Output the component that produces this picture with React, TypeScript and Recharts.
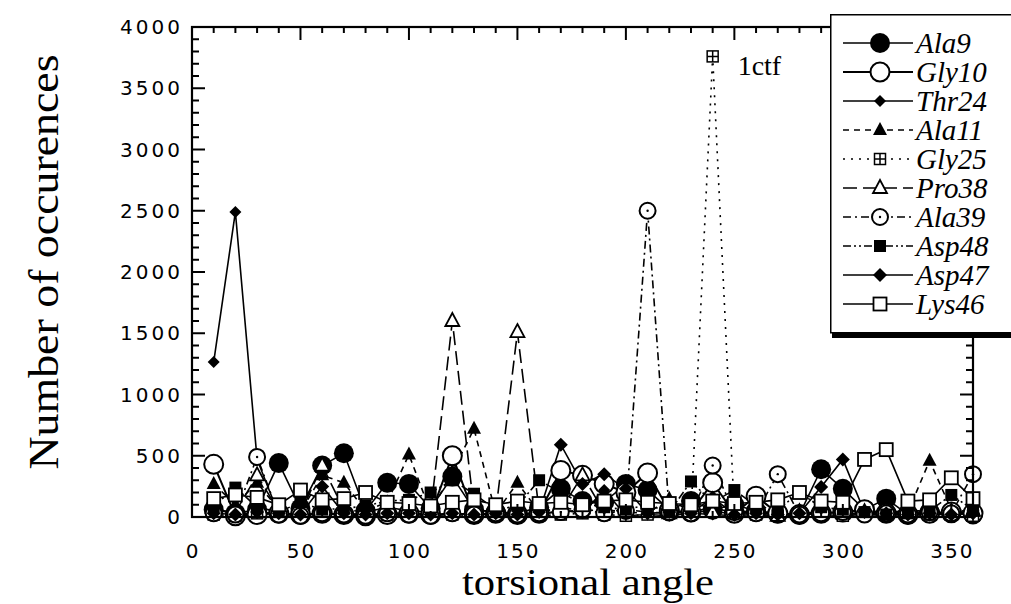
import React from "react";
import { LineChart, Line, XAxis, YAxis, ReferenceDot } from "recharts";

// torsional angle bins (degrees)
const ANGLES = [10, 20, 30, 40, 50, 60, 70, 80, 90, 100, 110, 120, 130, 140, 150, 160, 170, 180,
  190, 200, 210, 220, 230, 240, 250, 260, 270, 280, 290, 300, 310, 320, 330, 340, 350, 360];

// number of occurences per residue
const ALA9 = [60, 30, 60, 440, 70, 420, 520, 50, 280, 270, 70, 330, 60, 40, 30, 80, 230, 130,
  120, 270, 220, 60, 130, 60, 100, 50, 30, 20, 390, 230, 60, 150, 20, 40, 30, 20];
const GLY10 = [430, 10, 20, 30, 20, 30, 20, 10, 20, 30, 20, 500, 20, 30, 20, 30, 380, 340,
  270, 200, 360, 50, 40, 280, 30, 170, 30, 20, 30, 40, 60, 30, 20, 30, 40, 30];
const THR24 = [1265, 2490, 470, 20, 10, 30, 20, 10, 40, 20, 10, 20, 30, 10, 20, 10, 60, 30,
  220, 10, 20, 10, 30, 20, 10, 20, 10, 30, 20, 10, 20, 10, 20, 10, 30, 20];
const ALA11 = [270, 100, 280, 60, 40, 340, 280, 50, 120, 510, 40, 370, 720, 30, 280, 40, 80, 50,
  60, 40, 30, 150, 40, 80, 30, 40, 20, 30, 40, 30, 20, 30, 40, 460, 60, 40];
const GLY25 = [20, 10, 30, 20, 10, 20, 30, 10, 20, 10, 30, 20, 10, 20, 30, 10, 20, 30,
  20, 10, 20, 30, 20, 3760, 30, 20, 10, 20, 30, 10, 20, 30, 10, 20, 30, 10];
const PRO38 = [60, 40, 340, 50, 30, 420, 60, 40, 80, 50, 40, 1600, 60, 40, 1510, 50, 60, 340,
  40, 60, 40, 30, 50, 40, 30, 60, 10, 40, 30, 50, 40, 30, 60, 40, 30, 50];
const ALA39 = [30, 20, 490, 20, 10, 30, 20, 10, 30, 20, 10, 30, 20, 30, 20, 30, 40, 60,
  30, 50, 2500, 40, 30, 420, 40, 30, 350, 20, 30, 40, 20, 30, 20, 40, 30, 350];
const ASP48 = [90, 240, 80, 40, 120, 60, 70, 90, 130, 140, 200, 300, 190, 60, 90, 300, 200, 110,
  80, 60, 100, 40, 290, 120, 220, 90, 60, 200, 80, 60, 40, 20, 30, 50, 180, 60];
const ASP47 = [30, 20, 40, 30, 20, 250, 30, 20, 30, 30, 20, 30, 20, 30, 20, 40, 590, 270,
  350, 230, 30, 40, 30, 160, 20, 30, 20, 30, 245, 470, 40, 30, 20, 30, 20, 30];
const LYS46 = [150, 180, 160, 100, 220, 140, 150, 200, 120, 110, 90, 120, 140, 100, 130, 110, 120, 100,
  130, 140, 120, 110, 100, 130, 110, 120, 140, 200, 130, 120, 470, 550, 130, 140, 320, 150];

const X_MAJOR = [0, 50, 100, 150, 200, 250, 300, 350];
const Y_MAJOR = [0, 500, 1000, 1500, 2000, 2500, 3000, 3500, 4000];
const X_TICKS = Array.from({ length: 37 }, (_, i) => i * 10);
const Y_TICKS = Array.from({ length: 41 }, (_, i) => i * 100);
const X_MAX = 360;
const Y_MAX = 4000;

const SERIES = [
  { key: "Ala9", values: ALA9, kind: "bigDisc", dash: undefined, width: 1.6 },
  { key: "Gly10", values: GLY10, kind: "bigRing", dash: undefined, width: 2 },
  { key: "Thr24", values: THR24, kind: "smallDiamond", dash: undefined, width: 1.6 },
  { key: "Ala11", values: ALA11, kind: "triFilled", dash: "6 5", width: 1.6 },
  { key: "Gly25", values: GLY25, kind: "boxCross", dash: "2 6", width: 1.6 },
  { key: "Pro38", values: PRO38, kind: "triOpen", dash: "14 6", width: 1.6 },
  { key: "Ala39", values: ALA39, kind: "dotRing", dash: "8 4 2 4", width: 1.6 },
  { key: "Asp48", values: ASP48, kind: "squareFilled", dash: "8 3 2 3 2 3", width: 1.6 },
  { key: "Asp47", values: ASP47, kind: "diamond", dash: undefined, width: 1.6 },
  { key: "Lys46", values: LYS46, kind: "squareOpen", dash: undefined, width: 1.6 },
];

const data = ANGLES.map((angle, i) => {
  const row: any = { angle };
  SERIES.forEach((s) => (row[s.key] = s.values[i]));
  return row;
});

const peakIdx = GLY25.indexOf(Math.max(...GLY25));

// plot box (chart margins + axis sizes below)
const PLOT = { left: 192, right: 973, top: 27, bottom: 517 };
const TICK_FONT = "'DejaVu Sans', sans-serif";
const SERIF = "'Liberation Serif', 'Times New Roman', serif";

function Marker({ kind, cx, cy }: { kind: string; cx: number; cy: number }) {
  if (cx == null || cy == null) return null;
  switch (kind) {
    case "bigDisc":
      return <circle cx={cx} cy={cy} r={10} fill="#000" />;
    case "bigRing":
      return <circle cx={cx} cy={cy} r={9.5} fill="#fff" stroke="#000" strokeWidth={2} />;
    case "smallDiamond":
      return <path d={`M${cx},${cy - 6}L${cx + 6},${cy}L${cx},${cy + 6}L${cx - 6},${cy}Z`} fill="#000" />;
    case "triFilled":
      return <path d={`M${cx},${cy - 8}L${cx + 7},${cy + 5}L${cx - 7},${cy + 5}Z`} fill="#000" />;
    case "boxCross":
      return (
        <g>
          <rect x={cx - 5.5} y={cy - 5.5} width={11} height={11} fill="#fff" stroke="#000" strokeWidth={1.5} />
          <path d={`M${cx - 5.5},${cy}H${cx + 5.5}M${cx},${cy - 5.5}V${cy + 5.5}`} stroke="#000" strokeWidth={1.5} />
        </g>
      );
    case "triOpen":
      return <path d={`M${cx},${cy - 8}L${cx + 7},${cy + 5}L${cx - 7},${cy + 5}Z`} fill="#fff" stroke="#000" strokeWidth={1.8} />;
    case "dotRing":
      return (
        <g>
          <circle cx={cx} cy={cy} r={8} fill="#fff" stroke="#000" strokeWidth={2} />
          <circle cx={cx} cy={cy} r={1.2} fill="#000" />
        </g>
      );
    case "squareFilled":
      return <rect x={cx - 6} y={cy - 6} width={12} height={12} fill="#000" />;
    case "diamond":
      return <path d={`M${cx},${cy - 7}L${cx + 7},${cy}L${cx},${cy + 7}L${cx - 7},${cy}Z`} fill="#000" />;
    default:
      return <rect x={cx - 6.5} y={cy - 6.5} width={13} height={13} fill="#fff" stroke="#000" strokeWidth={1.8} />;
  }
}

const BottomTick = (p: any) => {
  const v = p.payload.value;
  if (!X_MAJOR.includes(v)) return <g />;
  return (
    <text x={p.x + 1} y={p.y + 41} textAnchor="middle" fontFamily={TICK_FONT} fontSize={20} letterSpacing={2} fill="#000">
      {v}
    </text>
  );
};

const LeftTick = (p: any) => {
  const v = p.payload.value;
  if (!Y_MAJOR.includes(v)) return <g />;
  return (
    <text x={p.x - 9} y={p.y + 7} textAnchor="end" fontFamily={TICK_FONT} fontSize={20} letterSpacing={3} fill="#000">
      {v}
    </text>
  );
};

const CtfLabel = (p: any) => (
  <text x={p.viewBox.x + 25} y={p.viewBox.y + 19} fontFamily={SERIF} fontSize={28} fill="#000">
    1ctf
  </text>
);

// closed frame with inward-pointing ticks on all four sides
const Frame = () => {
  const w = PLOT.right - PLOT.left;
  const h = PLOT.bottom - PLOT.top;
  const px = (v: number) => PLOT.left + (v / X_MAX) * w;
  const py = (v: number) => PLOT.bottom - (v / Y_MAX) * h;
  return (
    <svg width={1011} height={604} style={{ position: "absolute", left: 0, top: 0, pointerEvents: "none" }}>
      <rect x={PLOT.left} y={PLOT.top} width={w} height={h} fill="none" stroke="#000" strokeWidth={2.2} />
      {X_TICKS.map((v) => {
        const len = X_MAJOR.includes(v) ? 13 : 6;
        return (
          <g key={`x${v}`} stroke="#000" strokeWidth={2}>
            <line x1={px(v)} x2={px(v)} y1={PLOT.bottom} y2={PLOT.bottom - len} />
            <line x1={px(v)} x2={px(v)} y1={PLOT.top} y2={PLOT.top + len} />
          </g>
        );
      })}
      {Y_TICKS.map((v) => {
        const len = Y_MAJOR.includes(v) ? 13 : 7;
        return (
          <g key={`y${v}`} stroke="#000" strokeWidth={2}>
            <line x1={PLOT.left} x2={PLOT.left + len} y1={py(v)} y2={py(v)} />
            <line x1={PLOT.right} x2={PLOT.right - len} y1={py(v)} y2={py(v)} />
          </g>
        );
      })}
    </svg>
  );
};

const LegendBox = () => (
  <svg width={181} height={330} style={{ position: "absolute", left: 830, top: 14, display: "block" }}>
    <rect x={2} y={5} width={200} height={319} fill="#000" />
    <rect x={0.75} y={0.75} width={200} height={318} fill="#fff" stroke="#000" strokeWidth={1.5} />
    {SERIES.map((s, i) => {
      const cy = 29 + i * 29;
      return (
        <g key={s.key}>
          <line x1={13} x2={83} y1={cy} y2={cy} stroke="#000" strokeWidth={s.width} strokeDasharray={s.dash} />
          <Marker kind={s.kind} cx={50} cy={cy} />
          <text x={86} y={cy + 10} fontFamily={SERIF} fontStyle="italic" fontSize={29} fill="#000">
            {s.key}
          </text>
        </g>
      );
    })}
  </svg>
);

export default function App() {
  return (
    <div style={{ position: "absolute", left: 0, top: 0, width: 1011, height: 604, background: "#fff" }}>
      <LineChart
        width={1011}
        height={604}
        data={data}
        margin={{ top: PLOT.top, right: 1011 - PLOT.right, bottom: 0, left: 0 }}
      >
        <XAxis dataKey="angle" type="number" domain={[0, X_MAX]} ticks={X_TICKS} interval={0} height={604 - PLOT.bottom}
          tickSize={0} tickMargin={0} tickLine={false} axisLine={{ stroke: "#000", strokeWidth: 2 }}
          tick={<BottomTick />}
          label={{
            content: () => (
              <text x={588} y={595} textAnchor="middle" fontFamily={SERIF} fontSize={38} textLength={252} lengthAdjust="spacingAndGlyphs" fill="#000">
                torsional angle
              </text>
            ),
          }}
        />
        <YAxis type="number" domain={[0, Y_MAX]} ticks={Y_TICKS} interval={0} width={PLOT.left}
          tickSize={0} tickMargin={0} tickLine={false} axisLine={{ stroke: "#000", strokeWidth: 2 }}
          tick={<LeftTick />}
          label={{
            content: () => (
              <text x={58} y={262} transform="rotate(-90, 58, 262)" textAnchor="middle" fontFamily={SERIF} fontSize={42}
                textLength={415} lengthAdjust="spacingAndGlyphs" fill="#000">
                Number of occurences
              </text>
            ),
          }}
        />
        {SERIES.map((s) => (
          <Line
            key={s.key}
            dataKey={s.key}
            stroke="#000"
            strokeWidth={s.width}
            strokeDasharray={s.dash}
            dot={(p: any) => <Marker key={`${s.key}-${p.index}`} kind={s.kind} cx={p.cx} cy={p.cy} />}
            activeDot={false}
            isAnimationActive={false}
          />
        ))}
        <ReferenceDot x={ANGLES[peakIdx]} y={GLY25[peakIdx]} r={0} fill="none" stroke="none" label={<CtfLabel />} />
      </LineChart>
      <Frame />
      <LegendBox />
    </div>
  );
}
